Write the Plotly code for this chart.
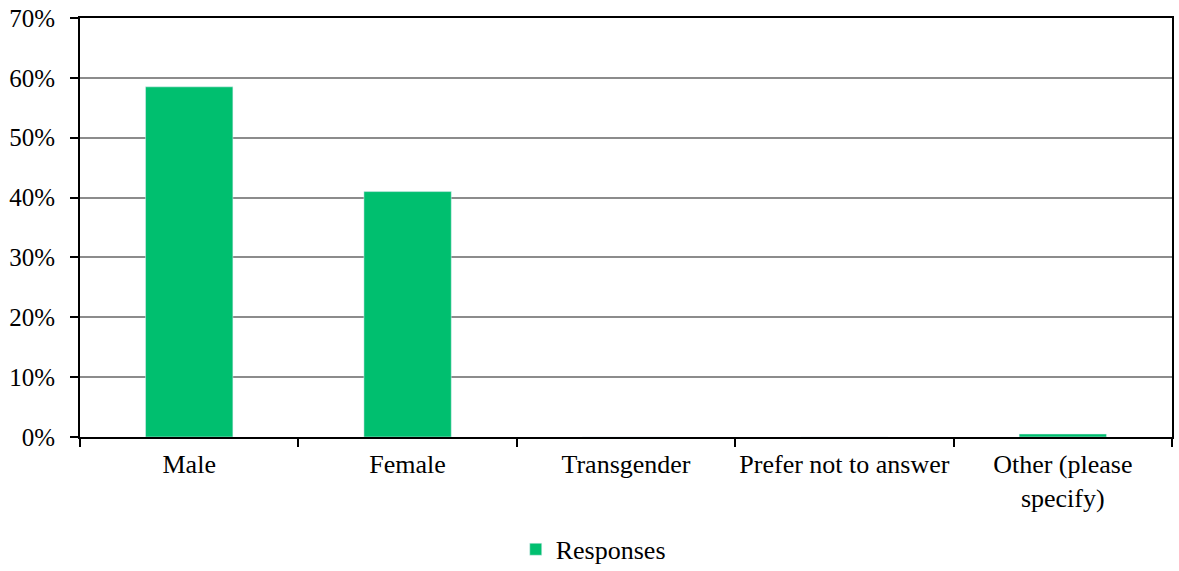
import plotly.graph_objects as go

categories = ["Male", "Female", "Transgender", "Prefer not to answer", "Other (please<br>specify)"]
responses = [0.585, 0.41, 0.0, 0.0, 0.005]
y_ticks = [0, 0.1, 0.2, 0.3, 0.4, 0.5, 0.6, 0.7]

FONT = dict(family='Liberation Serif', size=26, color='#000000')
YFONT = dict(family='Liberation Serif', size=25, color='#000000')

fig = go.Figure(data=[
    go.Bar(
        x=categories,
        y=responses,
        name='Responses',
        marker_color='#00bf6f',
        showlegend=True,
    ),
])

fig.update_layout(
    width=1179,
    height=571,
    margin=dict(l=80, r=7, t=18, b=134, autoexpand=False),
    plot_bgcolor='white',
    paper_bgcolor='white',
    font=FONT,
    bargap=0.6,
    legend=dict(
        orientation='h',
        x=0.47,
        xanchor='center',
        y=-0.212,
        yanchor='top',
        font=FONT,
        itemwidth=30,
    ),
    xaxis=dict(
        automargin=False,
        tickfont=FONT,
        tickangle=0,
        tickson='boundaries',
        ticks='outside',
        ticklen=8,
        tickwidth=2,
        tickcolor='black',
        ticklabelstandoff=3,
        showline=True,
        linecolor='black',
        linewidth=2,
        mirror=True,
        showgrid=False,
    ),
    yaxis=dict(
        automargin=False,
        tickfont=YFONT,
        range=[0, 0.7],
        tickvals=y_ticks,
        tickformat='.0%',
        ticks='outside',
        ticklen=8,
        tickwidth=2,
        tickcolor='black',
        ticklabelstandoff=10,
        ticklabeloverflow='allow',
        showline=True,
        linecolor='black',
        linewidth=2,
        mirror=True,
        showgrid=True,
        gridcolor='#8c8c8c',
        gridwidth=1.5,
        zeroline=False,
    ),
)

# drop the default 8px body margin so the figure fills the window
fig.write_html("out.html", config={'displayModeBar': False},
               post_script="document.body.style.margin='0';")
